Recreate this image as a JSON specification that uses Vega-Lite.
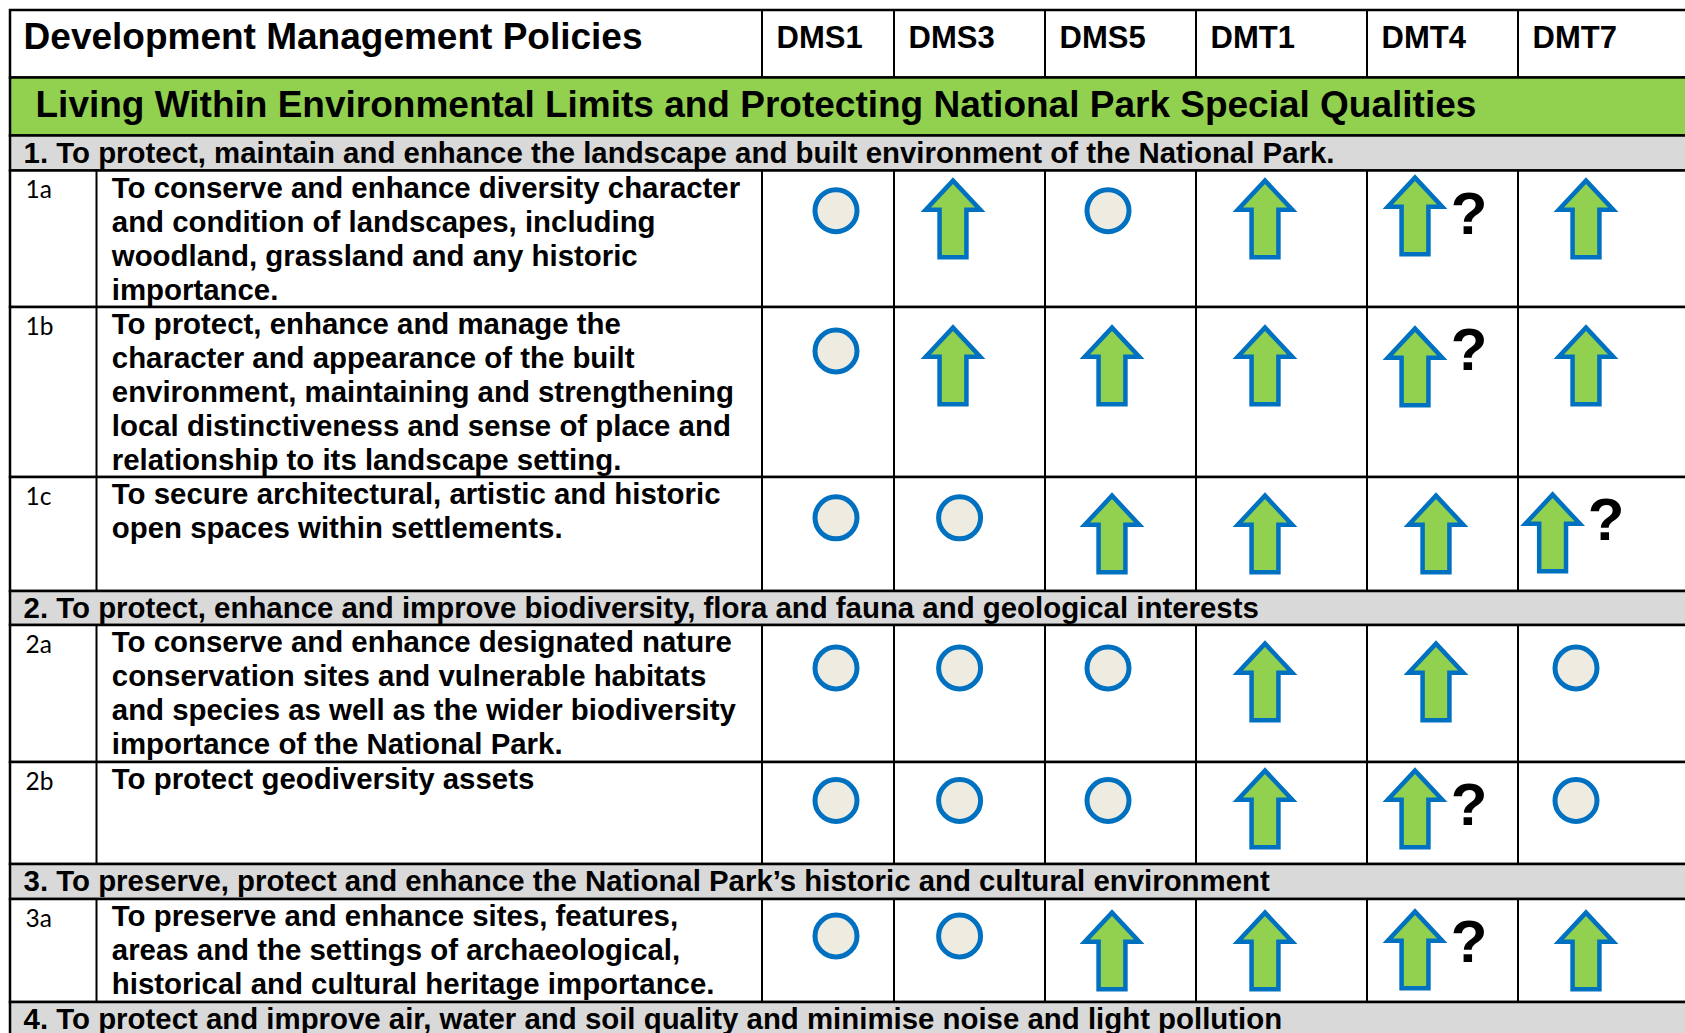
{
  "$schema": "https://vega.github.io/schema/vega-lite/v6.json",
  "width": 1685,
  "height": 1033,
  "autosize": {"type": "none"},
  "padding": 0,
  "background": "white",
  "config": {
    "view": {"stroke": null},
    "axis": {"disable": true},
    "font": "Liberation Sans",
    "text": {"font": "Liberation Sans"}
  },
  "datasets": {
    "rows": [
      {"row": "header", "kind": "header", "top": 0, "bottom": 1, "text": "Development Management Policies"},
      {"row": "theme", "kind": "theme", "top": 1, "bottom": 2, "text": "Living Within Environmental Limits and Protecting National Park Special Qualities"},
      {"row": "o1", "kind": "objective", "top": 2, "bottom": 3, "text": "1. To protect, maintain and enhance the landscape and built environment of the National Park."},
      {"row": "1a", "kind": "policy", "top": 3, "bottom": 4, "text": "To conserve and enhance diversity character\nand condition of landscapes, including\nwoodland, grassland and any historic\nimportance."},
      {"row": "1b", "kind": "policy", "top": 4, "bottom": 5, "text": "To protect, enhance and manage the\ncharacter and appearance of the built\nenvironment, maintaining and strengthening\nlocal distinctiveness and sense of place and\nrelationship to its landscape setting."},
      {"row": "1c", "kind": "policy", "top": 5, "bottom": 6, "text": "To secure architectural, artistic and historic\nopen spaces within settlements."},
      {"row": "o2", "kind": "objective", "top": 6, "bottom": 7, "text": "2. To protect, enhance and improve biodiversity, flora and fauna and geological interests"},
      {"row": "2a", "kind": "policy", "top": 7, "bottom": 8, "text": "To conserve and enhance designated nature\nconservation sites and vulnerable habitats\nand species as well as the wider biodiversity\nimportance of the National Park."},
      {"row": "2b", "kind": "policy", "top": 8, "bottom": 9, "text": "To protect geodiversity assets"},
      {"row": "o3", "kind": "objective", "top": 9, "bottom": 10, "text": "3. To preserve, protect and enhance the National Park’s historic and cultural environment"},
      {"row": "3a", "kind": "policy", "top": 10, "bottom": 11, "text": "To preserve and enhance sites, features,\nareas and the settings of archaeological,\nhistorical and cultural heritage importance."},
      {"row": "o4", "kind": "objective", "top": 11, "bottom": 12, "text": "4. To protect and improve air, water and soil quality and minimise noise and light pollution"}
    ],
    "columns": [
      {"policy": "DMS1", "col": 2},
      {"policy": "DMS3", "col": 3},
      {"policy": "DMS5", "col": 4},
      {"policy": "DMT1", "col": 5},
      {"policy": "DMT4", "col": 6},
      {"policy": "DMT7", "col": 7}
    ],
    "cells": [
      {"row": "1a", "policy": "DMS1", "effect": "neutral", "uncertain": false},
      {"row": "1a", "policy": "DMS3", "effect": "positive", "uncertain": false},
      {"row": "1a", "policy": "DMS5", "effect": "neutral", "uncertain": false},
      {"row": "1a", "policy": "DMT1", "effect": "positive", "uncertain": false},
      {"row": "1a", "policy": "DMT4", "effect": "positive", "uncertain": true},
      {"row": "1a", "policy": "DMT7", "effect": "positive", "uncertain": false},
      {"row": "1b", "policy": "DMS1", "effect": "neutral", "uncertain": false},
      {"row": "1b", "policy": "DMS3", "effect": "positive", "uncertain": false},
      {"row": "1b", "policy": "DMS5", "effect": "positive", "uncertain": false},
      {"row": "1b", "policy": "DMT1", "effect": "positive", "uncertain": false},
      {"row": "1b", "policy": "DMT4", "effect": "positive", "uncertain": true},
      {"row": "1b", "policy": "DMT7", "effect": "positive", "uncertain": false},
      {"row": "1c", "policy": "DMS1", "effect": "neutral", "uncertain": false},
      {"row": "1c", "policy": "DMS3", "effect": "neutral", "uncertain": false},
      {"row": "1c", "policy": "DMS5", "effect": "positive", "uncertain": false},
      {"row": "1c", "policy": "DMT1", "effect": "positive", "uncertain": false},
      {"row": "1c", "policy": "DMT4", "effect": "positive", "uncertain": false},
      {"row": "1c", "policy": "DMT7", "effect": "positive", "uncertain": true},
      {"row": "2a", "policy": "DMS1", "effect": "neutral", "uncertain": false},
      {"row": "2a", "policy": "DMS3", "effect": "neutral", "uncertain": false},
      {"row": "2a", "policy": "DMS5", "effect": "neutral", "uncertain": false},
      {"row": "2a", "policy": "DMT1", "effect": "positive", "uncertain": false},
      {"row": "2a", "policy": "DMT4", "effect": "positive", "uncertain": false},
      {"row": "2a", "policy": "DMT7", "effect": "neutral", "uncertain": false},
      {"row": "2b", "policy": "DMS1", "effect": "neutral", "uncertain": false},
      {"row": "2b", "policy": "DMS3", "effect": "neutral", "uncertain": false},
      {"row": "2b", "policy": "DMS5", "effect": "neutral", "uncertain": false},
      {"row": "2b", "policy": "DMT1", "effect": "positive", "uncertain": false},
      {"row": "2b", "policy": "DMT4", "effect": "positive", "uncertain": true},
      {"row": "2b", "policy": "DMT7", "effect": "neutral", "uncertain": false},
      {"row": "3a", "policy": "DMS1", "effect": "neutral", "uncertain": false},
      {"row": "3a", "policy": "DMS3", "effect": "neutral", "uncertain": false},
      {"row": "3a", "policy": "DMS5", "effect": "positive", "uncertain": false},
      {"row": "3a", "policy": "DMT1", "effect": "positive", "uncertain": false},
      {"row": "3a", "policy": "DMT4", "effect": "positive", "uncertain": true},
      {"row": "3a", "policy": "DMT7", "effect": "positive", "uncertain": false}
    ]
  },
  "resolve": {"scale": {"x": "independent", "y": "independent", "color": "independent"}},
  "layer": [
    {
      "data": {"name": "rows"},
      "mark": {"type": "rect", "stroke": "black", "strokeWidth": 2.5},
      "encoding": {
        "x": {"datum": 0, "type": "quantitative", "axis": null, "scale": {"type": "linear", "domain": [0,1,2,3,4,5,6,7,8], "range": [10,96.5,762,894,1045,1196,1367,1518,1700], "nice": false, "zero": false}},
        "x2": {"datum": 8},
        "y": {"field": "top", "type": "quantitative", "axis": null, "scale": {"type": "linear", "domain": [0,1,2,3,4,5,6,7,8,9,10,11,12], "range": [10,77.5,135.5,170.5,307,477,591,625,762,864,899,1002,1040], "nice": false, "zero": false}},
        "y2": {"field": "bottom"},
        "fill": {"field": "kind", "type": "nominal", "legend": null, "scale": {"domain": ["header", "theme", "objective", "policy"], "range": ["#FFFFFF", "#92D050", "#D9D9D9", "#FFFFFF"]}}
      }
    },
    {
      "data": {"name": "rows"},
      "transform": [{"filter": "datum.kind === 'policy'"}],
      "mark": {"type": "rule", "stroke": "black", "strokeWidth": 2},
      "encoding": {
        "x": {"datum": 1, "type": "quantitative", "axis": null, "scale": {"type": "linear", "domain": [0,1,2,3,4,5,6,7,8], "range": [10,96.5,762,894,1045,1196,1367,1518,1700], "nice": false, "zero": false}},
        "y": {"field": "top", "type": "quantitative", "axis": null, "scale": {"type": "linear", "domain": [0,1,2,3,4,5,6,7,8,9,10,11,12], "range": [10,77.5,135.5,170.5,307,477,591,625,762,864,899,1002,1040], "nice": false, "zero": false}},
        "y2": {"field": "bottom"}
      }
    },
    {
      "data": {"name": "columns"},
      "mark": {"type": "rule", "stroke": "black", "strokeWidth": 2},
      "encoding": {
        "x": {"field": "col", "type": "quantitative", "axis": null, "scale": {"type": "linear", "domain": [0,1,2,3,4,5,6,7,8], "range": [10,96.5,762,894,1045,1196,1367,1518,1700], "nice": false, "zero": false}},
        "y": {"datum": 0, "type": "quantitative", "axis": null, "scale": {"type": "linear", "domain": [0,1,2,3,4,5,6,7,8,9,10,11,12], "range": [10,77.5,135.5,170.5,307,477,591,625,762,864,899,1002,1040], "nice": false, "zero": false}},
        "y2": {"datum": 1}
      }
    },
    {
      "data": {"name": "cells"},
      "transform": [
        {"lookup": "row", "from": {"data": {"name": "rows"}, "key": "row", "fields": ["top", "bottom"]}},
        {"lookup": "policy", "from": {"data": {"name": "columns"}, "key": "policy", "fields": ["col"]}}
      ],
      "mark": {"type": "rule", "stroke": "black", "strokeWidth": 2},
      "encoding": {
        "x": {"field": "col", "type": "quantitative", "axis": null, "scale": {"type": "linear", "domain": [0,1,2,3,4,5,6,7,8], "range": [10,96.5,762,894,1045,1196,1367,1518,1700], "nice": false, "zero": false}},
        "y": {"field": "top", "type": "quantitative", "axis": null, "scale": {"type": "linear", "domain": [0,1,2,3,4,5,6,7,8,9,10,11,12], "range": [10,77.5,135.5,170.5,307,477,591,625,762,864,899,1002,1040], "nice": false, "zero": false}},
        "y2": {"field": "bottom"}
      }
    },
    {
      "data": {"name": "rows"},
      "transform": [{"filter": "datum.kind === 'header'"}],
      "mark": {"type": "text", "align": "left", "baseline": "middle", "fontSize": 37, "fontWeight": "bold", "color": "black", "dx": 13.6, "dy": 27.6},
      "encoding": {
        "x": {"datum": 0, "type": "quantitative", "axis": null, "scale": {"type": "linear", "domain": [0,1,2,3,4,5,6,7,8], "range": [10,96.5,762,894,1045,1196,1367,1518,1700], "nice": false, "zero": false}},
        "y": {"field": "top", "type": "quantitative", "axis": null, "scale": {"type": "linear", "domain": [0,1,2,3,4,5,6,7,8,9,10,11,12], "range": [10,77.5,135.5,170.5,307,477,591,625,762,864,899,1002,1040], "nice": false, "zero": false}},
        "text": {"field": "text"}
      }
    },
    {
      "data": {"name": "rows"},
      "transform": [{"filter": "datum.kind === 'theme'"}],
      "mark": {"type": "text", "align": "left", "baseline": "middle", "fontSize": 37, "fontWeight": "bold", "color": "black", "dx": 25.5, "dy": 28.6},
      "encoding": {
        "x": {"datum": 0, "type": "quantitative", "axis": null, "scale": {"type": "linear", "domain": [0,1,2,3,4,5,6,7,8], "range": [10,96.5,762,894,1045,1196,1367,1518,1700], "nice": false, "zero": false}},
        "y": {"field": "top", "type": "quantitative", "axis": null, "scale": {"type": "linear", "domain": [0,1,2,3,4,5,6,7,8,9,10,11,12], "range": [10,77.5,135.5,170.5,307,477,591,625,762,864,899,1002,1040], "nice": false, "zero": false}},
        "text": {"field": "text"}
      }
    },
    {
      "data": {"name": "rows"},
      "transform": [{"filter": "datum.kind === 'objective'"}],
      "mark": {"type": "text", "align": "left", "baseline": "middle", "fontSize": 29.4, "fontWeight": "bold", "color": "black", "dx": 13.6, "dy": 18.3},
      "encoding": {
        "x": {"datum": 0, "type": "quantitative", "axis": null, "scale": {"type": "linear", "domain": [0,1,2,3,4,5,6,7,8], "range": [10,96.5,762,894,1045,1196,1367,1518,1700], "nice": false, "zero": false}},
        "y": {"field": "top", "type": "quantitative", "axis": null, "scale": {"type": "linear", "domain": [0,1,2,3,4,5,6,7,8,9,10,11,12], "range": [10,77.5,135.5,170.5,307,477,591,625,762,864,899,1002,1040], "nice": false, "zero": false}},
        "text": {"field": "text"}
      }
    },
    {
      "data": {"name": "rows"},
      "transform": [{"filter": "datum.kind === 'policy'"}],
      "mark": {"type": "text", "align": "left", "baseline": "middle", "font": "Lato", "fontSize": 24.5, "color": "black", "dx": 15.5, "dy": 20.5},
      "encoding": {
        "x": {"datum": 0, "type": "quantitative", "axis": null, "scale": {"type": "linear", "domain": [0,1,2,3,4,5,6,7,8], "range": [10,96.5,762,894,1045,1196,1367,1518,1700], "nice": false, "zero": false}},
        "y": {"field": "top", "type": "quantitative", "axis": null, "scale": {"type": "linear", "domain": [0,1,2,3,4,5,6,7,8,9,10,11,12], "range": [10,77.5,135.5,170.5,307,477,591,625,762,864,899,1002,1040], "nice": false, "zero": false}},
        "text": {"field": "row"}
      }
    },
    {
      "data": {"name": "rows"},
      "transform": [{"filter": "datum.kind === 'policy'"}],
      "mark": {"type": "text", "align": "left", "baseline": "top", "fontSize": 29.4, "fontWeight": "bold", "color": "black", "dx": 15.3, "dy": 4.2, "lineBreak": "\n", "lineHeight": 34},
      "encoding": {
        "x": {"datum": 1, "type": "quantitative", "axis": null, "scale": {"type": "linear", "domain": [0,1,2,3,4,5,6,7,8], "range": [10,96.5,762,894,1045,1196,1367,1518,1700], "nice": false, "zero": false}},
        "y": {"field": "top", "type": "quantitative", "axis": null, "scale": {"type": "linear", "domain": [0,1,2,3,4,5,6,7,8,9,10,11,12], "range": [10,77.5,135.5,170.5,307,477,591,625,762,864,899,1002,1040], "nice": false, "zero": false}},
        "text": {"field": "text"}
      }
    },
    {
      "data": {"name": "columns"},
      "mark": {"type": "text", "align": "left", "baseline": "middle", "fontSize": 31, "fontWeight": "bold", "color": "black", "dx": 14.5, "dy": 29.4},
      "encoding": {
        "x": {"field": "col", "type": "quantitative", "axis": null, "scale": {"type": "linear", "domain": [0,1,2,3,4,5,6,7,8], "range": [10,96.5,762,894,1045,1196,1367,1518,1700], "nice": false, "zero": false}},
        "y": {"datum": 0, "type": "quantitative", "axis": null, "scale": {"type": "linear", "domain": [0,1,2,3,4,5,6,7,8,9,10,11,12], "range": [10,77.5,135.5,170.5,307,477,591,625,762,864,899,1002,1040], "nice": false, "zero": false}},
        "text": {"field": "policy"}
      }
    },
    {
      "data": {"name": "cells"},
      "transform": [
        {"filter": "datum.effect === 'neutral'"},
        {"lookup": "row", "from": {"data": {"name": "rows"}, "key": "row", "fields": ["top"]}},
        {"lookup": "policy", "from": {"data": {"name": "columns"}, "key": "policy", "fields": ["col"]}}
      ],
      "mark": {"type": "point", "shape": "circle", "filled": true, "fill": "#EEECE1", "stroke": "#0070C0", "strokeWidth": 5, "size": 1764, "opacity": 1},
      "encoding": {
        "x": {"field": "col", "type": "quantitative", "axis": null, "scale": {"type": "linear", "domain": [2,3,4,7], "range": [836,959.6,1108,1576], "nice": false, "zero": false}},
        "y": {"field": "top", "type": "quantitative", "axis": null, "scale": {"type": "linear", "domain": [3,4,5,7,8,10], "range": [210.7,351,517.8,668,800.5,936], "nice": false, "zero": false}}
      }
    },
    {
      "data": {"name": "cells"},
      "transform": [
        {"filter": "datum.effect === 'positive' && !datum.uncertain"},
        {"lookup": "row", "from": {"data": {"name": "rows"}, "key": "row", "fields": ["top"]}},
        {"lookup": "policy", "from": {"data": {"name": "columns"}, "key": "policy", "fields": ["col"]}}
      ],
      "mark": {"type": "point", "shape": "M0,-1L0.71,-0.24L0.35,-0.24L0.35,1L-0.35,1L-0.35,-0.24L-0.71,-0.24Z", "filled": true, "fill": "#92D050", "stroke": "#0070C0", "strokeWidth": 4.5, "strokeJoin": "miter", "size": 5883, "opacity": 1},
      "encoding": {
        "x": {"field": "col", "type": "quantitative", "axis": null, "scale": {"type": "linear", "domain": [3,4,5,6,7], "range": [953,1112,1265,1436,1586], "nice": false, "zero": false}},
        "y": {"field": "top", "type": "quantitative", "axis": null, "scale": {"type": "linear", "domain": [3,4,5,7,8,10], "range": [219,366,534,682,809,951], "nice": false, "zero": false}}
      }
    },
    {
      "data": {"name": "cells"},
      "transform": [
        {"filter": "datum.effect === 'positive' && datum.uncertain"},
        {"lookup": "row", "from": {"data": {"name": "rows"}, "key": "row", "fields": ["top"]}},
        {"lookup": "policy", "from": {"data": {"name": "columns"}, "key": "policy", "fields": ["col"]}}
      ],
      "mark": {"type": "point", "shape": "M0,-1L0.71,-0.24L0.35,-0.24L0.35,1L-0.35,1L-0.35,-0.24L-0.71,-0.24Z", "filled": true, "fill": "#92D050", "stroke": "#0070C0", "strokeWidth": 4.5, "strokeJoin": "miter", "size": 5883, "opacity": 1},
      "encoding": {
        "x": {"field": "col", "type": "quantitative", "axis": null, "scale": {"type": "linear", "domain": [6,7], "range": [1415,1552.6], "nice": false, "zero": false}},
        "y": {"field": "top", "type": "quantitative", "axis": null, "scale": {"type": "linear", "domain": [3,4,5,7,8,10], "range": [216,367,533,682,809,950], "nice": false, "zero": false}}
      }
    },
    {
      "data": {"name": "cells"},
      "transform": [
        {"filter": "datum.uncertain"},
        {"lookup": "row", "from": {"data": {"name": "rows"}, "key": "row", "fields": ["top"]}},
        {"lookup": "policy", "from": {"data": {"name": "columns"}, "key": "policy", "fields": ["col"]}}
      ],
      "mark": {"type": "text", "align": "center", "baseline": "middle", "fontSize": 60, "fontWeight": "bold", "color": "black", "dy": 45},
      "encoding": {
        "x": {"field": "col", "type": "quantitative", "axis": null, "scale": {"type": "linear", "domain": [6,7], "range": [1469,1606], "nice": false, "zero": false}},
        "y": {"field": "top", "type": "quantitative", "axis": null, "scale": {"type": "linear", "domain": [0,1,2,3,4,5,6,7,8,9,10,11,12], "range": [10,77.5,135.5,170.5,307,477,591,625,762,864,899,1002,1040], "nice": false, "zero": false}},
        "text": {"value": "?"}
      }
    }
  ]
}
